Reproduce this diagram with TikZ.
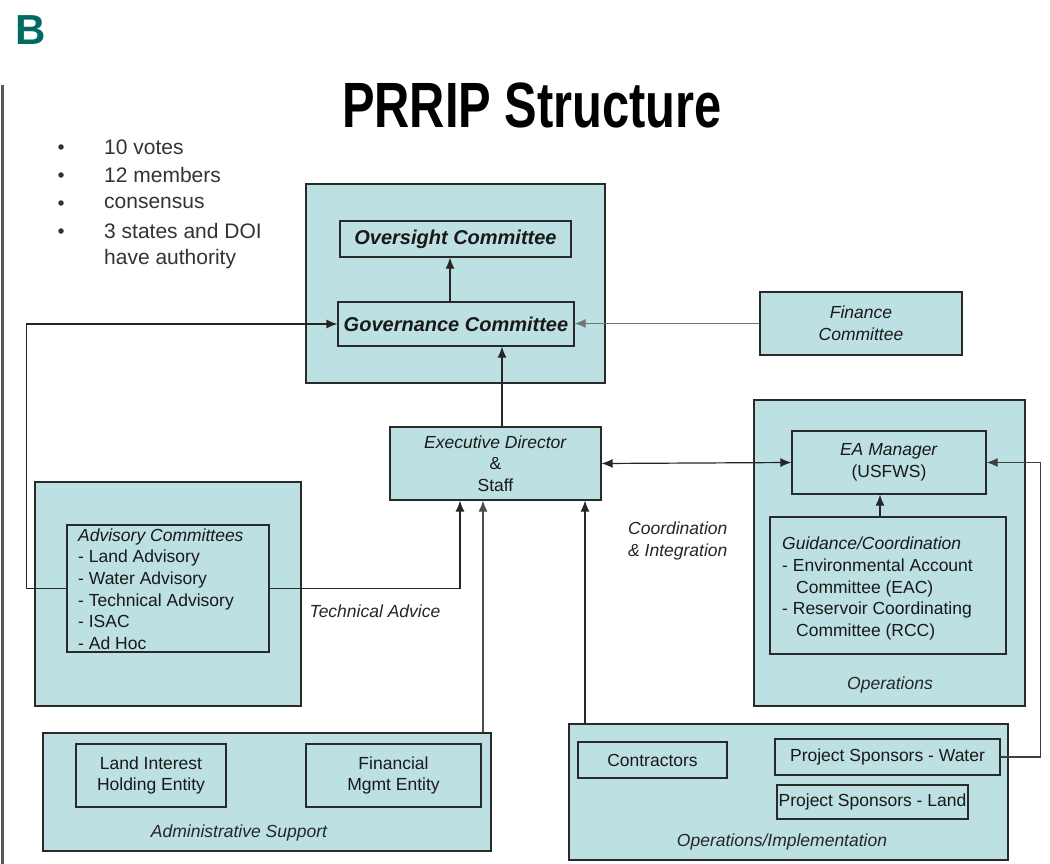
\documentclass[tikz,border=0pt]{standalone}
\usepackage{fontspec}
\setmainfont{Liberation Sans}
\usetikzlibrary{arrows.meta,calc}
\definecolor{boxfill}{HTML}{BDE0E3}
\definecolor{boxline}{HTML}{2A2A2A}
\definecolor{teal}{HTML}{006B60}
\definecolor{bullettext}{HTML}{333333}
\newcommand\bxfont{\fontsize{17.5}{21.6}\selectfont}
\newcommand\hdfont{\fontsize{20}{24}\selectfont\bfseries\itshape}
\begin{document}
\begin{tikzpicture}[x=1pt,y=-1pt,
  box/.style={draw=boxline,fill=boxfill,line width=1.2pt,inner sep=0pt,align=center,
              font=\bxfont,text=black!90},
  lbl/.style={inner sep=0pt,font=\bxfont\itshape,text=black!85},
  tip/.tip={Latex[length=11pt,width=9pt]},
  arr/.style={draw=black!85,line width=1.2pt,-tip},
  bul/.style={inner sep=0pt,anchor=west,font=\fontsize{21}{25}\selectfont,text=bullettext}]
\useasboundingbox (0,0) rectangle (1050,864);
\fill[white] (0,0) rectangle (1050,864);

% panel letter and side rule
\node[font=\fontsize{42}{42}\selectfont\bfseries,text=teal,inner sep=0pt] (letter) at (31,30) {B};
\draw[black!65,line width=3pt] (2,85) -- (2,864);

% title
\node[inner sep=0pt,font=\fontsize{64}{64}\selectfont\bfseries] (title) at (532,105)
  {\scalebox{0.763}[1]{PRRIP Structure}};

% bullet list
\foreach \t [count=\i] in {10 votes,12 members,consensus,3 states and DOI,have authority}{
  \node[bul] (item\i) at (104,{147+28*(\i-1)}) {\t};
}
\foreach \i in {1,...,4}{
  \node[circle,fill=bullettext,inner sep=0pt,minimum size=5.5pt] (dot\i) at (61,{147+28*(\i-1)}) {};
}

% governance group
\node[box,minimum width=299pt,minimum height=199pt] (govgroup) at (455.5,283.5) {};
\node[box,minimum width=231pt,minimum height=36pt,font=\hdfont] (oversight) at (455.5,239) {Oversight Committee};
\node[box,minimum width=236pt,minimum height=44pt,font=\hdfont] (governance) at (456,324) {Governance Committee};

% finance committee
\node[box,minimum width=202pt,minimum height=63pt,font=\bxfont\itshape] (finance) at (861,323.5) {Finance\\Committee};

% executive director
\node[box,minimum width=211pt,minimum height=73pt] (exec) at (495.5,463.5) {\textit{Executive Director}\\\&\\Staff};

% operations group
\node[box,minimum width=271pt,minimum height=306pt] (opsgroup) at (889.5,553) {};
\node[box,minimum width=194pt,minimum height=63pt] (ea) at (889,462.5) {\textit{EA Manager}\\(USFWS)};
\node[box,minimum width=236pt,minimum height=137pt] (guidance) at (888,585.5) {};
\node[lbl,anchor=north west,align=left,font=\bxfont,text=black!90] (guidetext) at (782,537)
  {\textit{Guidance/Coordination}\\- Environmental Account\\\hspace*{14pt}Committee (EAC)\\- Reservoir Coordinating\\\hspace*{14pt}Committee (RCC)};
\node[lbl] (opslabel) at (890,685) {Operations};

% advisory group
\node[box,minimum width=266pt,minimum height=224pt] (advgroup) at (168,594) {};
\node[box,minimum width=202pt,minimum height=127pt] (advbox) at (168,588.5) {};
\node[lbl,anchor=north west,align=left,font=\bxfont,text=black!90] (advtext) at (78,528.5)
  {\textit{Advisory Committees}\\- Land Advisory\\- Water Advisory\\- Technical Advisory\\- ISAC\\- Ad Hoc};

% administrative support group
\node[box,minimum width=448pt,minimum height=118pt] (admin) at (267,792) {};
\node[box,minimum width=150pt,minimum height=63pt] (land) at (151,775.5) {Land Interest\\Holding Entity};
\node[box,minimum width=175pt,minimum height=63pt] (finmgmt) at (393.5,775.5) {Financial\\Mgmt Entity};
\node[lbl] (adminlabel) at (239,833) {Administrative Support};

% operations / implementation group
\node[box,minimum width=439pt,minimum height=136pt] (opsimpl) at (788.5,792) {};
\node[box,minimum width=149pt,minimum height=36pt] (contractors) at (652.5,760) {Contractors};
\node[box,minimum width=225pt,minimum height=36pt] (pswater) at (887.5,757) {Project Sponsors - Water};
\node[box,minimum width=191pt,minimum height=34pt] (psland) at (872.5,802) {Project Sponsors - Land};
\node[lbl] (implabel) at (782,842) {Operations/Implementation};

% connector labels
\node[lbl] (techadvice) at (375,611) {Technical Advice};
\node[lbl,anchor=west,align=left] (coord) at (628,541) {Coordination\\\& Integration};

% column positions for vertical connectors
\coordinate (c450) at (450,0);
\coordinate (c502) at (502,0);
\coordinate (c460) at (460,0);
\coordinate (c483) at (483,0);
\coordinate (c585) at (585,0);
\coordinate (c880) at (880,0);

% connectors
\draw[arr] (governance.north -| c450) -- (oversight.south -| c450);
\draw[arr] (exec.north -| c502) -- (governance.south -| c502);
\draw[arr,draw=black!55] (finance.west) -- (finance.west -| governance.east);
\draw[arr] (advbox.west) -- ++(-40,0) |- (governance.west);
\draw[arr] (advbox.east) -| (exec.south -| c460);
\draw[arr,draw=black!70] (admin.north -| c483) -- (exec.south -| c483);
\draw[arr] (opsimpl.north -| c585) -- (exec.south -| c585);
\draw[arr,tip-tip] (exec.east) -- (ea.west);
\draw[arr,draw=black!75] (pswater.east) -- ++(40,0) |- (ea.east);
\draw[arr] (guidance.north -| c880) -- (ea.south -| c880);
\end{tikzpicture}
\end{document}
